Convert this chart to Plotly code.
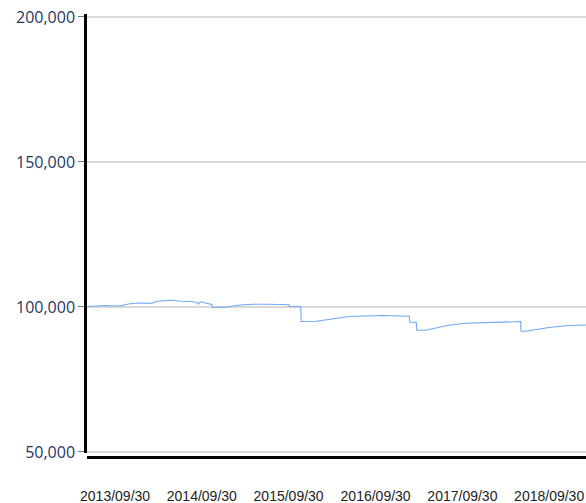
import plotly.graph_objects as go

dates = [
    "2013-06-06", "2013-08-19", "2013-10-21", "2013-11-24", "2014-01-05",
    "2014-03-05", "2014-03-26", "2014-05-20", "2014-07-09", "2014-08-20",
    "2014-09-11", "2014-09-16", "2014-09-23", "2014-11-11", "2014-11-13",
    "2015-01-07", "2015-03-02", "2015-04-29", "2015-07-11", "2015-10-02",
    "2015-10-04", "2015-11-20", "2015-11-22", "2016-01-24", "2016-06-12",
    "2016-10-29", "2017-02-19", "2017-02-21", "2017-03-20", "2017-03-22",
    "2017-04-28", "2017-08-03", "2017-10-14", "2018-03-02", "2018-06-02",
    "2018-06-04", "2018-06-24", "2018-09-29", "2018-12-22", "2019-03-04",
]
values = [
    100140, 100480, 100345, 101034, 101380,
    101276, 101965, 102310, 101965, 101862,
    101448, 100931, 101793, 100828, 99897,
    99897, 100586, 100931, 100931, 100759,
    100138, 100138, 94966, 95069, 96690,
    97035, 96793, 94725, 94725, 91966,
    91966, 93690, 94380, 94621, 94966,
    91621, 91621, 92897, 93587, 93793,
]

x_tick_dates = ["2013-09-30", "2014-09-30", "2015-09-30", "2016-09-30", "2017-09-30", "2018-09-30"]
x_tick_labels = ["2013/09/30", "2014/09/30", "2015/09/30", "2016/09/30", "2017/09/30", "2018/09/30"]
y_ticks = [50000, 100000, 150000, 200000]

fig = go.Figure()
fig.add_trace(go.Scatter(
    x=dates, y=values, mode="lines",
    line=dict(color="#6fa8f5", width=1.1),
    hoverinfo="x+y", showlegend=False,
))

fig.update_layout(
    width=586, height=503,
    margin=dict(l=87, r=0, t=14, b=46, pad=0),
    paper_bgcolor="white", plot_bgcolor="white",
    xaxis=dict(
        type="date",
        range=["2013-06-04", "2019-03-04"],
        anchor="free", position=0,
        showline=True, linecolor="black", linewidth=3,
        showgrid=False, zeroline=False,
        tickvals=x_tick_dates, ticktext=x_tick_labels,
        ticks="", ticklabelstandoff=25, automargin=False,
        tickfont=dict(family="Liberation Sans, Arial", size=14, color="#222222"),
    ),
    yaxis=dict(
        domain=[4 / 443, 1],
        range=[49650, 201000],
        tickvals=y_ticks, tickformat=",",
        ticks="outside", ticklen=6, tickcolor="#777777", tickwidth=1,
        showline=True, linecolor="black", linewidth=2.5,
        showgrid=True, gridcolor="#d9d9d9", gridwidth=2,
        zeroline=False, automargin=False,
        tickfont=dict(family="Open Sans", size=16, color="#1f3864"),
    ),
)

fig.write_html(
    "out.html",
    config={"displayModeBar": False},
    post_script="document.body.style.margin='0';document.body.style.overflow='hidden';",
)
